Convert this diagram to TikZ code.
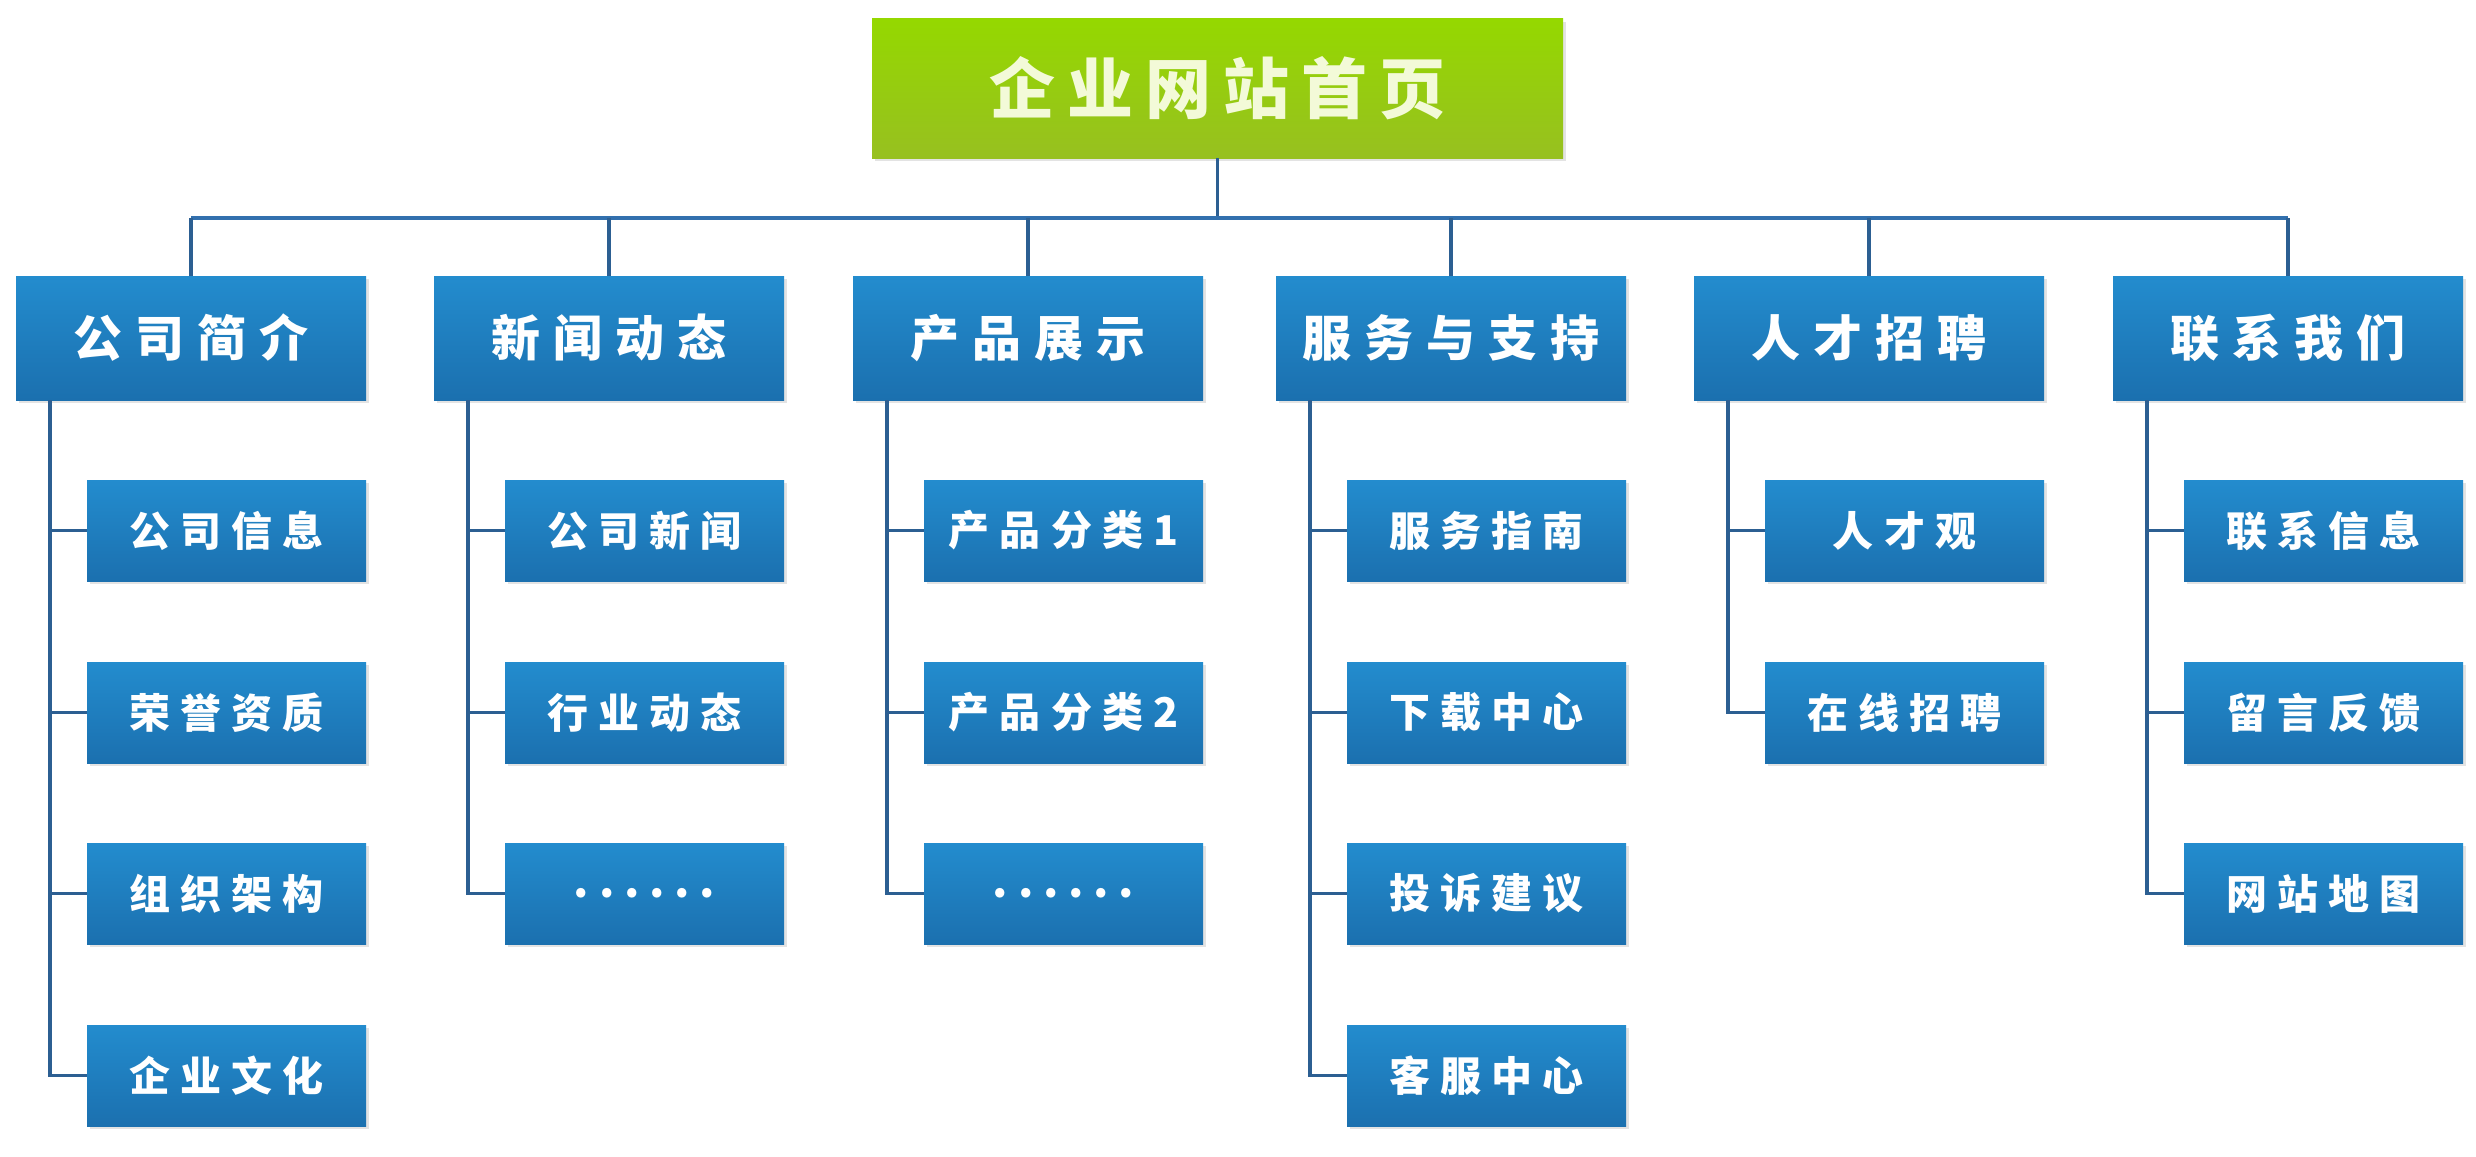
\documentclass[tikz,border=0pt]{standalone}
\usepackage{fontspec}
\newfontfamily\cjktop[LetterSpace=18]{Noto Sans CJK SC}
\newfontfamily\cjkone[LetterSpace=27]{Noto Sans CJK SC}
\newfontfamily\cjktwo[LetterSpace=25]{Noto Sans CJK SC}
\newfontfamily\cjkdots[LetterSpace=22]{Noto Sans CJK SC}
\usetikzlibrary{shadows}
\definecolor{boxtop}{HTML}{238CCE}
\definecolor{boxbot}{HTML}{1B70AF}
\definecolor{greentop}{HTML}{95D800}
\definecolor{greenbot}{HTML}{97C020}
\definecolor{linecol}{HTML}{2C5F92}
\definecolor{buscol}{HTML}{3270AE}
\definecolor{toptext}{HTML}{F3FAD8}
\tikzset{
  x=0.5pt, y=-0.5pt,
  boxbase/.style={rectangle, inner sep=0pt, text=white,
    top color=boxtop, bottom color=boxbot,
    drop shadow={opacity=0.22, shadow xshift=1.5pt, shadow yshift=-1.5pt}},
  lvlone/.style={boxbase, minimum width=175pt, minimum height=62pt,
    font=\cjkone\bfseries\fontsize{24.5}{28}\selectfont},
  lvltwo/.style={boxbase, minimum width=139.5pt, minimum height=50.5pt,
    font=\cjktwo\bfseries\fontsize{20.5}{24}\selectfont},
  dotsbox/.style={lvltwo, font=\cjkdots\bfseries\fontsize{22}{24}\selectfont},
  rootbox/.style={rectangle, inner sep=0pt, text=toptext,
    top color=greentop, bottom color=greenbot,
    drop shadow={opacity=0.22, shadow xshift=1.5pt, shadow yshift=-1.5pt},
    minimum width=345.5pt, minimum height=69.5pt,
    font=\cjktop\bfseries\fontsize{33}{38}\selectfont},
  conn/.style={draw=linecol, line width=1.8pt},
  busline/.style={draw=buscol, line width=1.8pt},
}
\begin{document}
\begin{tikzpicture}
\useasboundingbox[fill=white] (0,0) rectangle (2476,1156);

% root
\node[rootbox] (root) at (1217.5,88.5) {企业网站首页};

% level 1 (left edges L: 16, 434, 853, 1276, 1694, 2113)
\node[lvlone] (a) at (191,338) {公司简介};
\node[lvlone] (b) at (609,338) {新闻动态};
\node[lvlone] (c) at (1028,338) {产品展示};
\node[lvlone] (d) at (1451,338) {服务与支持};
\node[lvlone] (e) at (1869,338) {人才招聘};
\node[lvlone] (f) at (2288,338) {联系我们};

% bus
\coordinate (busc) at (1217.5,218);
\coordinate (busl) at (191,218);
\coordinate (busr) at (2288,218);
\draw[conn] (root.south) -- (busc);
\draw[busline] (busl) -- (busr);
\foreach \n in {a,b,c,d,e,f}{
  \draw[conn] (\n.north |- busc) -- (\n.north);
}

% level 2: column a
\node[lvltwo] (a1) at (226.5,530.5) {公司信息};
\node[lvltwo] (a2) at (226.5,712.5) {荣誉资质};
\node[lvltwo] (a3) at (226.5,893.5) {组织架构};
\node[lvltwo] (a4) at (226.5,1075.5) {企业文化};
% column b
\node[lvltwo] (b1) at (644.5,530.5) {公司新闻};
\node[lvltwo] (b2) at (644.5,712.5) {行业动态};
\node[dotsbox] (b3) at (644.5,893.5) {\raisebox{-3pt}{......}};
% column c
\node[lvltwo] (c1) at (1063.5,530.5) {产品分类1};
\node[lvltwo] (c2) at (1063.5,712.5) {产品分类2};
\node[dotsbox] (c3) at (1063.5,893.5) {\raisebox{-3pt}{......}};
% column d
\node[lvltwo] (d1) at (1486.5,530.5) {服务指南};
\node[lvltwo] (d2) at (1486.5,712.5) {下载中心};
\node[lvltwo] (d3) at (1486.5,893.5) {投诉建议};
\node[lvltwo] (d4) at (1486.5,1075.5) {客服中心};
% column e
\node[lvltwo] (e1) at (1904.5,530.5) {人才观};
\node[lvltwo] (e2) at (1904.5,712.5) {在线招聘};
% column f
\node[lvltwo] (f1) at (2323.5,530.5) {联系信息};
\node[lvltwo] (f2) at (2323.5,712.5) {留言反馈};
\node[lvltwo] (f3) at (2323.5,893.5) {网站地图};

% spines (x = L + 34)
\coordinate (sa) at (50,400);
\coordinate (sb) at (468,400);
\coordinate (sc) at (887,400);
\coordinate (sd) at (1310,400);
\coordinate (se) at (1728,400);
\coordinate (sf) at (2147,400);

\draw[conn] (sa) |- (a4.west);
\foreach \k in {a1,a2,a3}{ \draw[conn] (sa |- \k.west) -- (\k.west); }
\draw[conn] (sb) |- (b3.west);
\foreach \k in {b1,b2}{ \draw[conn] (sb |- \k.west) -- (\k.west); }
\draw[conn] (sc) |- (c3.west);
\foreach \k in {c1,c2}{ \draw[conn] (sc |- \k.west) -- (\k.west); }
\draw[conn] (sd) |- (d4.west);
\foreach \k in {d1,d2,d3}{ \draw[conn] (sd |- \k.west) -- (\k.west); }
\draw[conn] (se) |- (e2.west);
\foreach \k in {e1}{ \draw[conn] (se |- \k.west) -- (\k.west); }
\draw[conn] (sf) |- (f3.west);
\foreach \k in {f1,f2}{ \draw[conn] (sf |- \k.west) -- (\k.west); }
\end{tikzpicture}
\end{document}
